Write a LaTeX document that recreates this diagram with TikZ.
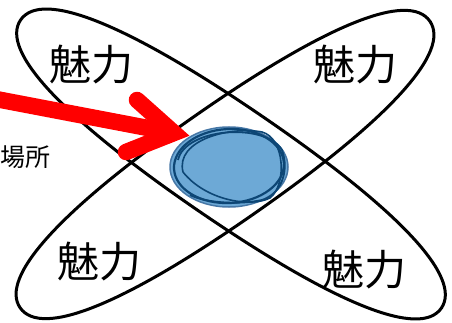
\documentclass[tikz,border=0pt]{standalone}
\usepackage{fontspec}
\newfontfamily\jp{Noto Sans CJK JP}
\definecolor{blobfill}{HTML}{6DA9D6}
\definecolor{blobline}{HTML}{0D4675}
\definecolor{bloboutline}{HTML}{4677A6}
\definecolor{arrowred}{HTML}{FF0000}
\tikzset{
  lobe/.style={draw=black, line width=3pt},
  charm/.style={inner sep=0pt, font=\jp\fontsize{42}{42}\selectfont},
  place/.style={inner sep=0pt, anchor=west, font=\jp\fontsize{25}{25}\selectfont},
  scribble/.style={draw=blobline, line width=2.2pt},
  redline/.style={draw=arrowred, line width=16.5pt}
}
\begin{document}
\begin{tikzpicture}[x=1pt,y=-1pt]
\useasboundingbox (0,0) rectangle (452,323);
% two crossing rounded lobes
\begin{scope}[shift={(231,164)}, rotate=-34.4]
\draw[lobe] (255,0) .. controls (255,37) and (166,57) .. (0,57)
  .. controls (-166,57) and (-255,37) .. (-255,0)
  .. controls (-255,-37) and (-166,-57) .. (0,-57)
  .. controls (166,-57) and (255,-37) .. cycle;
\end{scope}
\begin{scope}[shift={(225,164.5)}, rotate=35]
\draw[lobe] (250,0) .. controls (250,37) and (162,57) .. (0,57)
  .. controls (-162,57) and (-250,37) .. (-250,0)
  .. controls (-250,-37) and (-162,-57) .. (0,-57)
  .. controls (162,-57) and (250,-37) .. cycle;
\end{scope}
% labels
\node[charm] (tl) at (91,65) {魅力};
\node[charm] (tr) at (355,65) {魅力};
\node[charm] (bl) at (99,262) {魅力};
\node[charm] (br) at (364,270) {魅力};
\node[place] (loc) at (0,157) {場所};
% blue blob
\fill[blobfill] (229,167) ellipse [x radius=59pt, y radius=40pt];
\draw[bloboutline, line width=1.5pt] (229,167) ellipse [x radius=59pt, y radius=40pt];
\draw[scribble, rotate around={3:(229,167)}] (229,166) ellipse [x radius=55pt, y radius=37pt];
\draw[scribble, line width=1.8pt] (178,160) .. controls (185,128) and (265,122) .. (282,150)
  .. controls (290,172) and (280,195) .. (262,200)
  .. controls (240,205) and (205,203) .. (190,195);
\draw[scribble, line width=1.6pt] (183,172) .. controls (175,140) and (230,126) .. (262,132)
  .. controls (285,138) and (287,185) .. (270,198)
  .. controls (250,208) and (205,200) .. (183,172);
% red arrow
\coordinate (shaftstart) at (-12,97.5);
\coordinate (tip) at (174,133);
\coordinate (armup) at (137,100);
\coordinate (armlow) at (126,152);
\draw[redline] (shaftstart) -- (tip);
\draw[redline, line cap=round, line join=miter, miter limit=20] (armup) -- (tip) -- (armlow);
\end{tikzpicture}
\end{document}
